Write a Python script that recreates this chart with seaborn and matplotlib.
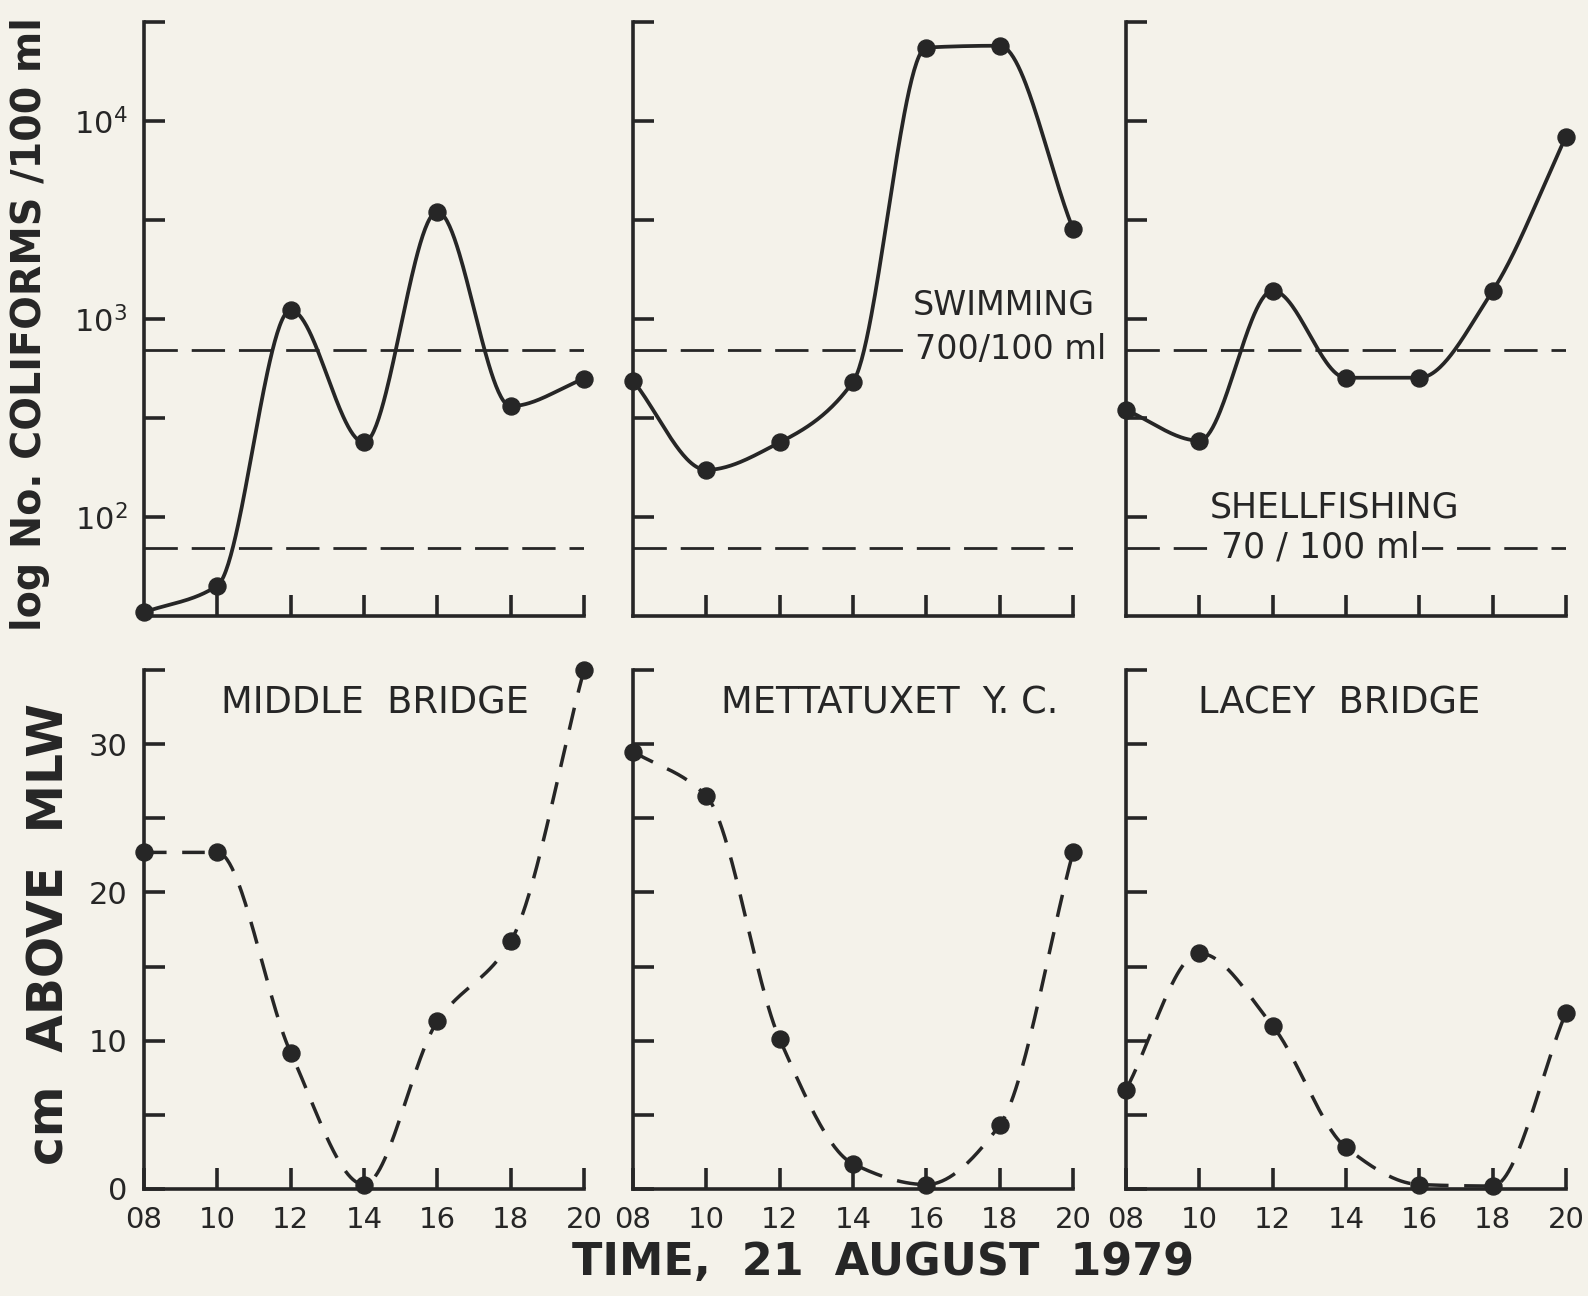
import numpy as np
import pandas as pd
import matplotlib
matplotlib.use('Agg')
import matplotlib.pyplot as plt
import seaborn as sns

# data
hours = [8, 10, 12, 14, 16, 18, 20]
hour_labels = ['08', '10', '12', '14', '16', '18', '20']
stations = ['MIDDLE  BRIDGE', 'METTATUXET  Y. C.', 'LACEY  BRIDGE']

coliform_middle = [33, 45, 1110, 238, 3480, 363, 499]
coliform_mett = [488, 173, 238, 482, 23500, 24000, 2850]
coliform_lacey = [347, 243, 1390, 505, 505, 1390, 8340]

tide_middle = [22.7, 22.7, 9.2, 0.3, 11.3, 16.7, 35.0]
tide_mett = [29.5, 26.5, 10.1, 1.7, 0.3, 4.3, 22.7]
tide_lacey = [6.7, 15.9, 11.0, 2.8, 0.3, 0.2, 11.9]

swimming_std = 700
shellfish_std = 70

PAPER = '#f4f2ea'
INK = '#262626'


def smooth(x, y, n=60):
    # monotone cubic curve through the points, for drawing only
    x = np.asarray(x, float)
    y = np.asarray(y, float)
    h = np.diff(x)
    d = np.diff(y) / h
    m = np.zeros_like(y)
    for k in range(1, len(y) - 1):
        if d[k - 1] * d[k] > 0:
            w1 = 2 * h[k] + h[k - 1]
            w2 = h[k] + 2 * h[k - 1]
            m[k] = (w1 + w2) / (w1 / d[k - 1] + w2 / d[k])
    # ends: plain secant slope
    m[0] = d[0]
    m[-1] = d[-1]
    xs, ys = [], []
    for k in range(len(h)):
        t = np.linspace(0, 1, n, endpoint=(k == len(h) - 1))
        h00 = 2 * t**3 - 3 * t**2 + 1
        h10 = t**3 - 2 * t**2 + t
        h01 = -2 * t**3 + 3 * t**2
        h11 = t**3 - t**2
        xs.append(x[k] + t * h[k])
        ys.append(h00 * y[k] + h10 * h[k] * m[k] + h01 * y[k + 1] + h11 * h[k] * m[k + 1])
    return np.concatenate(xs), np.concatenate(ys)


sns.set_theme(style='ticks', rc={
    'figure.facecolor': PAPER, 'axes.facecolor': PAPER,
    'axes.edgecolor': INK, 'axes.linewidth': 2.6,
    'xtick.color': INK, 'ytick.color': INK, 'text.color': INK,
    'mathtext.default': 'regular',
})
plt.rcParams['font.family'] = ['DejaVu Sans']

W, H = 1588, 1296
fig = plt.figure(figsize=(W / 100, H / 100), dpi=100)

col_left = [144, 633, 1126]
col_w = 440
rows = [(22, 616), (670, 1189)]

coliforms = [coliform_middle, coliform_mett, coliform_lacey]
tides = [tide_middle, tide_mett, tide_lacey]

for j in range(3):
    # ---- top row: coliforms on log scale
    top, bot = rows[0]
    ax = fig.add_axes([col_left[j] / W, 1 - bot / H, col_w / W, (bot - top) / H])
    xs, ys = smooth(hours, np.log10(coliforms[j]))
    curve = pd.DataFrame({'hour': xs, 'count': 10 ** ys})
    sns.lineplot(data=curve, x='hour', y='count', ax=ax, color=INK, lw=2.7,
                 clip_on=False, zorder=3)
    sns.scatterplot(x=hours, y=coliforms[j], ax=ax, s=150, color=INK,
                    edgecolor=INK, clip_on=False, zorder=5)
    ax.set_yscale('log')
    ax.axhline(swimming_std, color=INK, lw=2.0, ls=(0, (12, 5)), zorder=2)
    ax.axhline(shellfish_std, color=INK, lw=2.0, ls=(0, (12, 5)), zorder=2)
    ax.set_xlim(8, 20)
    ax.set_ylim(10 ** 1.5, 10 ** 4.5)
    ax.set_xticks(hours[1:])
    ax.set_xticklabels([])
    ax.set_yticks([10 ** 2, 10 ** 2.5, 10 ** 3, 10 ** 3.5, 10 ** 4, 10 ** 4.5])
    ax.minorticks_off()
    if j == 0:
        ax.set_yticklabels(['$10^2$', '', '$10^3$', '', '$10^4$', ''], fontsize=22)
    else:
        ax.set_yticklabels([])
    ax.tick_params(direction='in', length=15, width=2.6, pad=12)
    ax.set_xlabel('')
    ax.set_ylabel('')
    sns.despine(ax=ax)
    if j == 1:
        ax.text(18.1, 10 ** 3.07, 'SWIMMING', ha='center', va='center', fontsize=24,
                clip_on=False, zorder=4)
        ax.text(18.3, swimming_std, '700/100 ml', ha='center', va='center', fontsize=24,
                clip_on=False, zorder=4,
                bbox=dict(facecolor=PAPER, edgecolor='none', pad=2))
    if j == 2:
        ax.text(13.7, 10 ** 2.05, 'SHELLFISHING', ha='center', va='center', fontsize=25,
                zorder=4)
        ax.text(13.3, shellfish_std, '70 / 100 ml', ha='center', va='center', fontsize=25,
                zorder=4, bbox=dict(facecolor=PAPER, edgecolor='none', pad=2))

    # ---- bottom row: tide height
    top, bot = rows[1]
    ax = fig.add_axes([col_left[j] / W, 1 - bot / H, col_w / W, (bot - top) / H])
    xs, ys = smooth(hours, tides[j])
    curve = pd.DataFrame({'hour': xs, 'cm': ys})
    sns.lineplot(data=curve, x='hour', y='cm', ax=ax, color=INK, lw=2.5,
                 linestyle=(0, (6.5, 4.5)), clip_on=False, zorder=3)
    sns.scatterplot(x=hours, y=tides[j], ax=ax, s=150, color=INK,
                    edgecolor=INK, clip_on=False, zorder=5)
    ax.set_xlim(8, 20)
    ax.set_ylim(0, 35)
    ax.set_xticks(hours)
    ax.set_xticklabels(hour_labels, fontsize=21)
    ax.set_yticks(range(0, 36, 5))
    if j == 0:
        ax.set_yticklabels(['0', '', '10', '', '20', '', '30', ''], fontsize=22)
    else:
        ax.set_yticklabels([])
    ax.tick_params(direction='in', length=15, width=2.6, pad=12)
    ax.set_xlabel('')
    ax.set_ylabel('')
    sns.despine(ax=ax)
    label_x = [14.3, 15.0, 13.8][j]
    ax.text(label_x, 32.8, stations[j], ha='center', va='center', fontsize=26.5)

fig.text(0.019, 0.75, 'log No. COLIFORMS /100 ml', rotation=90, ha='center',
         va='center', fontsize=28.5, fontweight='bold')
fig.text(0.031, 0.279, 'cm  ABOVE  MLW', rotation=90, ha='center', va='center',
         fontsize=35, fontweight='bold')
fig.text(0.556, 0.026, 'TIME,  21  AUGUST  1979', ha='center', va='center',
         fontsize=32, fontweight='bold')

fig.savefig('out.png', dpi=100, facecolor=PAPER)
